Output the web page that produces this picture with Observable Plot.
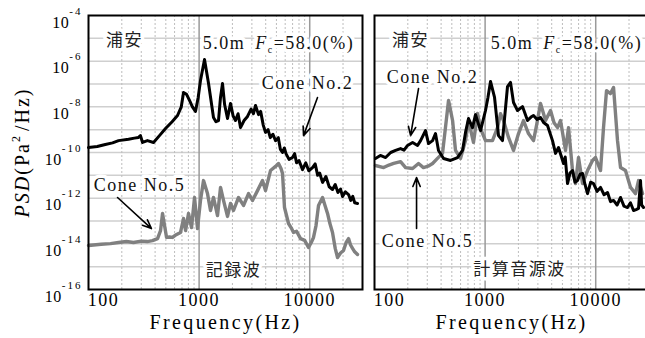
<!DOCTYPE html>
<html><head><meta charset="utf-8">
<script src="https://cdn.jsdelivr.net/npm/d3@7"></script>
<script src="https://cdn.jsdelivr.net/npm/@observablehq/plot@0.6"></script>
<style>
html,body{margin:0;padding:0;background:#fff;}
#wrap{position:relative;width:645px;height:338px;overflow:hidden;background:#fff;}
#wrap svg{position:absolute;top:0;}
</style></head><body><div id="wrap"></div>
<script>
// ---- Data (frequency in Hz, PSD as log10 of Pa^2/Hz) ----
// 記録波 (recorded wave)
const recFreqCone2 = [100,120,142,165,187,230,260,283,295,308,341,387,440,497,570,638,690,723,770,819,870,927,980,1029,1119,1217,1349,1420,1497,1560,1628,1700,1806,1923,2030,2134,2250,2367,2550,2739,2950,3100,3236,3444,3600,3800,3983,4200,4400,4650,4909,5200,5420,5675,5900,6100,6500,6990,7300,7600,8000,8610,9200,9800,10600,11200,11800,12300,13060,14000,15000,16070,17000,18000,19000,19810,21000,22440,23500,24500,25500,27050];
const recExpCone2  = [-9.78,-9.74,-9.65,-9.58,-9.48,-9.42,-9.37,-9.34,-9.26,-9.56,-9.48,-9.56,-9.25,-8.95,-8.65,-8.38,-8.0,-7.37,-7.45,-7.72,-8.0,-8.2,-7.6,-6.85,-5.93,-6.98,-8.47,-8.65,-8.6,-7.6,-6.98,-7.9,-8.51,-7.85,-8.4,-8.6,-8.3,-8.91,-8.6,-8.42,-8.1,-8.3,-7.94,-8.34,-8.2,-8.8,-9.12,-9.0,-9.35,-9.2,-9.48,-9.35,-9.85,-10.0,-9.8,-10.05,-10.3,-10.22,-10.05,-10.45,-10.35,-10.75,-10.45,-10.8,-10.66,-10.5,-11.0,-10.9,-11.31,-11.05,-11.5,-11.62,-11.4,-11.75,-11.6,-11.93,-11.72,-11.84,-12.1,-11.92,-12.2,-12.23];
const recFreqCone5 = [100,130,158,187,220,255,300,340,379,421,448,467,487,508,540,575,620,679,723,754,802,854,909,967,1029,1096,1191,1268,1349,1467,1562,1662,1806,1923,2047,2271,2520,2797,3039,3373,3743,3983,4422,4909,5224,5500,5675,5916,6430,6800,7137,7600,8260,9000,9750,10300,10820,11400,12010,13060,13700,14490,15200,16070,17000,17840,19000,20210,21300,22440,23400,24380,25500,27050];
const recExpCone5  = [-14.07,-14.02,-13.99,-13.94,-13.9,-13.94,-13.88,-13.9,-13.86,-13.77,-13.42,-12.67,-13.2,-13.72,-13.7,-13.72,-13.6,-13.5,-12.89,-13.42,-12.67,-13.29,-11.97,-13.33,-12.1,-11.23,-11.8,-12.54,-11.97,-12.76,-11.53,-12.1,-12.8,-12.23,-12.54,-11.97,-12.32,-11.8,-12.1,-11.67,-11.23,-11.67,-10.79,-10.61,-10.48,-10.7,-10.92,-12.41,-13.11,-13.3,-13.5,-13.45,-13.77,-13.85,-14.16,-13.95,-13.72,-13.2,-12.32,-11.97,-12.3,-12.67,-13.1,-13.5,-14.2,-14.6,-14.4,-14.29,-13.95,-13.77,-14.05,-14.2,-14.35,-14.47];
// 計算音源波 (calculated source wave)
const calcFreqCone2 = [102,113,126,140,155,172,185,199,221,245,261,289,308,335,356,379,421,487,563,625,665,708,769,819,909,1008,1060,1119,1217,1322,1436,1594,1697,1806,1963,2178,2417,2600,2739,2950,3170,3400,3666,4066,4331,4610,5117,5300,5559,5850,6170,6500,6846,7200,7598,8000,8433,9000,9550,10300,11050,11900,12790,13600,14490,15600,16760,18000,19390,20600,21970,23200,24380,25410,26000,27050];
const calcExpCone2  = [-10.26,-10.13,-10.22,-10.0,-9.91,-9.83,-9.9,-9.69,-9.56,-9.69,-9.48,-9.04,-9.61,-9.48,-9.17,-9.91,-10.26,-10.35,-10.22,-9.91,-9.12,-8.51,-8.91,-8.34,-9.04,-8.16,-7.6,-6.89,-7.59,-9.26,-9.48,-7.11,-6.93,-7.81,-8.16,-7.99,-8.6,-8.45,-8.38,-8.55,-8.47,-8.7,-8.82,-9.48,-10.04,-9.78,-10.48,-10.2,-11.36,-10.9,-10.79,-11.3,-11.23,-10.95,-10.92,-11.4,-11.8,-11.3,-11.36,-11.7,-11.53,-11.85,-11.75,-12.15,-12.1,-12.3,-11.97,-12.35,-12.41,-12.2,-12.54,-12.5,-12.45,-11.23,-12.3,-12.41];
const calcFreqCone5 = [102,121,135,149,172,191,221,250,277,305,335,371,412,438,467,508,540,599,665,708,785,854,909,1008,1166,1295,1378,1467,1628,1806,2005,2224,2467,2739,2915,3170,3518,3903,4200,4515,4805,5333,5675,6170,6566,6990,7598,8433,9354,9954,11050,11760,12520,13610,14490,15740,16760,18580,20640,22900,24380,26490];
const calcExpCone5  = [-10.57,-10.66,-10.55,-10.48,-10.4,-10.66,-10.7,-10.48,-10.66,-10.6,-10.48,-10.26,-10.04,-8.91,-7.72,-8.6,-9.91,-10.26,-9.48,-8.6,-9.56,-8.29,-8.95,-9.48,-9.48,-8.91,-8.3,-8.6,-9.34,-9.91,-9.17,-8.6,-9.17,-9.48,-8.82,-7.85,-8.6,-8.16,-8.7,-8.91,-8.6,-9.91,-8.91,-10.79,-11.36,-10.22,-11.36,-10.79,-10.35,-10.22,-10.79,-8.91,-7.29,-7.42,-7.15,-9.48,-10.66,-10.79,-11.53,-11.8,-11.23,-11.8];

// ticks
const yTickValues = [1e-4,1e-6,1e-8,1e-10,1e-12,1e-14,1e-16];
const yGridValues = [1e-5,1e-6,1e-7,1e-8,1e-9,1e-10,1e-11,1e-12,1e-13,1e-14,1e-15];
const xTickFirst = [100];
const xTickRest = [1000,10000];
const xMinorGrid = [200,300,400,500,600,700,800,900,2000,3000,4000,5000,6000,7000,8000,9000,20000,30000];
const xMajorGrid = [1000,10000];

// annotations
const recNotes = [
  {f:212, e:-5.10, text:"浦安", cjk:true},
  {f:5224, e:-5.23, text:"5.0m Fc=58.0(%)", cjk:false},
  {f:9550, e:-6.98, text:"Cone No.2", cjk:false},
  {f:289, e:-11.45, text:"Cone No.5", cjk:false},
  {f:2047, e:-15.17, text:"記録波", cjk:true}
];
const recArrows = [
  {f1:11760, e1:-7.59, f2:8790, e2:-9.26},
  {f1:183, e1:-11.97, f2:371, e2:-13.33}
];
const calcNotes = [
  {f:212, e:-5.10, text:"浦安", cjk:true},
  {f:5445, e:-5.23, text:"5.0m Fc=58.0(%)", cjk:false},
  {f:335, e:-6.72, text:"Cone No.2", cjk:false},
  {f:301, e:-13.9, text:"Cone No.5", cjk:false},
  {f:2047, e:-15.13, text:"計算音源波", cjk:true}
];
const calcArrows = [
  {f1:250, e1:-7.2, f2:212, e2:-9.26},
  {f1:240, e1:-13.33, f2:240, e2:-11.1}
];

const serif = "'Liberation Serif','Times New Roman',serif";
const cjk = "'Noto Sans CJK JP',sans-serif";
const rows = (fs, es) => fs.map((f, i) => ({f, psd: 10 ** es[i]}));

function panel({c2, c5, notes, arrows, showY, width, marginLeft, marginRight}) {
  const marks = [
    Plot.gridY(yGridValues, {stroke:"#cfcfcf", strokeOpacity:1, strokeWidth:1.5}),
    Plot.gridX(xMinorGrid, {stroke:"#bdbdbd", strokeOpacity:1, strokeWidth:1, strokeDasharray:"2,2"}),
    Plot.gridX(xMajorGrid, {stroke:"#9a9a9a", strokeOpacity:1, strokeWidth:1.5}),
    Plot.line(c5, {x:"f", y:"psd", stroke:"#808080", strokeWidth:3.4, strokeLinejoin:"round"}),
    Plot.line(c2, {x:"f", y:"psd", stroke:"#000", strokeWidth:3, strokeLinejoin:"round"}),
    Plot.text(notes.filter(d => d.cjk), {x:"f", y:d => 10 ** d.e, text:"text", fontFamily:cjk, fontSize:17, fill:"#222", stroke:"white", strokeWidth:7, paintOrder:"stroke"}),
    Plot.text(notes.filter(d => !d.cjk), {x:"f", y:d => 10 ** d.e, text:"text", fontFamily:serif, fontSize:18, fill:"#111", stroke:"white", strokeWidth:7, paintOrder:"stroke"}),
    Plot.arrow(arrows, {x1:"f1", y1:d => 10 ** d.e1, x2:"f2", y2:d => 10 ** d.e2, stroke:"black", strokeWidth:1.6, headLength:9, headAngle:45}),
    Plot.axisX(xTickFirst, {tickSize:0, tickPadding:4, dx:15, fontSize:18, tickFormat:d => String(d), label:null}),
    Plot.axisX(xTickRest, {tickSize:0, tickPadding:4, fontSize:18, tickFormat:d => String(d), label:null}),
    Plot.text(["Frequency(Hz)"], {text:d => d, frameAnchor:"bottom", lineAnchor:"middle", textAnchor:"middle", dy:33, fontSize:20, fontFamily:serif}),
    Plot.frame({stroke:"black", strokeWidth:2})
  ];
  if (showY) {
    marks.push(Plot.axisY(yTickValues, {tickSize:0, tickPadding:6, dy:7, fontSize:16, tickFormat:d => String(Math.round(Math.log10(d))), label:null}));
    marks.push(Plot.text(["PSD"], {text:d => d, frameAnchor:"left", textAnchor:"middle", lineAnchor:"middle", dx:-66, rotate:-90, fontSize:20, fontFamily:serif}));
  }
  const svg = Plot.plot({
    width, height:338, marginLeft, marginRight, marginTop:15, marginBottom:49,
    style:`font-family:${serif};letter-spacing:1.5px;background:white;`,
    x:{type:"log", domain:[100,30000]},
    y:{type:"log", domain:[1e-16,1e-4], axis: showY ? undefined : null},
    marks
  });
  finish(svg);
  return svg;
}

function finish(svg) {
  const s = d3.select(svg);
  s.selectAll("g[aria-label='y-axis tick label'] text").each(function() {
    const ex = this.textContent;
    const el = d3.select(this).attr("letter-spacing", "0.5");
    el.text("10");
    el.append("tspan").attr("dy", -13).attr("font-size", 11).attr("letter-spacing", "2").text(ex);
  });
  s.selectAll("text").each(function() {
    const t = this.textContent;
    const el = d3.select(this);
    if (t === "5.0m Fc=58.0(%)") {
      el.text(null);
      el.append("tspan").text("5.0m");
      el.append("tspan").attr("dx", 10).attr("font-style", "italic").text("F");
      el.append("tspan").attr("font-size", 10).attr("dy", 4).text("c");
      el.append("tspan").attr("dy", -4).text("=58.0(%)");
    } else if (t === "PSD") {
      el.text(null).attr("letter-spacing", "2");
      el.append("tspan").attr("font-style", "italic").text("PSD");
      el.append("tspan").text("(Pa");
      el.append("tspan").attr("font-size", 12).attr("dy", -9).text("2");
      el.append("tspan").attr("dy", 9).attr("dx", 3).text("/Hz)");
    } else if (t === "Frequency(Hz)") {
      el.attr("letter-spacing", "2.4");
    }
  });
}

const wrap = document.getElementById("wrap");
const left = panel({c2: rows(recFreqCone2, recExpCone2), c5: rows(recFreqCone5, recExpCone5), notes: recNotes, arrows: recArrows, showY: true, width: 366, marginLeft: 88, marginRight: 4});
left.style.left = "0px";
wrap.appendChild(left);
const right = panel({c2: rows(calcFreqCone2, calcExpCone2), c5: rows(calcFreqCone5, calcExpCone5), notes: calcNotes, arrows: calcArrows, showY: false, width: 300, marginLeft: 8, marginRight: 18});
right.style.left = "366px";
wrap.appendChild(right);
</script></body></html>
